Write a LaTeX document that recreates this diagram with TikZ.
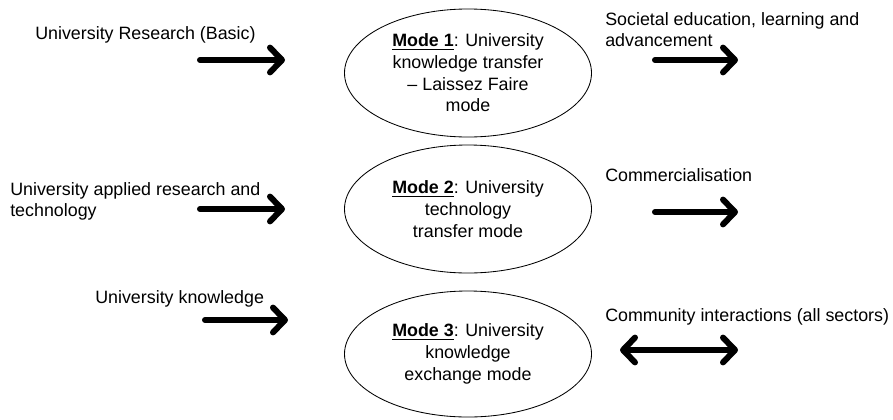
\documentclass[tikz,border=0pt]{standalone}
\usepackage{fontspec}
\setmainfont{Liberation Sans}
\usepackage{tikz}
\usetikzlibrary{arrows.meta}
\usetikzlibrary{shapes,backgrounds}
\usetikzlibrary{positioning}
\usetikzlibrary{calc}

\begin{document}
\begin{tikzpicture}[
	txt/.style={inner sep=0pt,align=left,font=\fontsize{12.7}{15}\selectfont},
	modebox/.style={draw,line width=0.6pt,ellipse,inner sep=0pt,minimum width=6.175cm,minimum height=3.2cm,align=center,font=\fontsize{12.7}{15.4}\selectfont},
	bigarrow/.style={line width=0.15cm,line cap=round,line join=round,-{Straight Barb[length=0.3cm,width=0.62cm,line cap=round,line join=round]}},
	bigboth/.style={bigarrow,{Straight Barb[length=0.3cm,width=0.62cm,line cap=round,line join=round]}-{Straight Barb[length=0.3cm,width=0.62cm,line cap=round,line join=round]}}]
	\useasboundingbox (0,0) rectangle (22.325,-10.475);

	\node[modebox](M1) at (11.7,-1.825){\underline{\textbf{Mode 1}}: University\\knowledge transfer\\-- Laissez Faire\\mode};
	\node[modebox](M2) at (11.7,-5.225){\underline{\textbf{Mode 2}}: University\\technology\\transfer mode};
	\node[modebox,minimum height=3.15cm](M3) at (11.7,-8.85){\underline{\textbf{Mode 3}}: University\\knowledge\\exchange mode};

	\node[txt,anchor=west](L1) at (0.875,-0.875){University Research (Basic)};
	\node[txt,anchor=west](L2) at (0.25,-5.04){University applied research and\\technology};
	\node[txt,anchor=west](L3) at (2.375,-7.475){University knowledge};

	\node[txt,anchor=west](R1) at (15.125,-0.75){Societal education, learning and\\advancement};
	\node[txt,anchor=west](R2) at (15.125,-4.375){Commercialisation};
	\node[txt,anchor=west](R3) at (15.125,-7.925){Community interactions (all sectors)};

	\coordinate (A1s) at (5,-1.5);      \coordinate (A1e) at (7.125,-1.5);
	\coordinate (A2s) at (5,-5.225);    \coordinate (A2e) at (7.125,-5.225);
	\coordinate (A3s) at (5.125,-8);    \coordinate (A3e) at (7.2,-8);
	\coordinate (B1s) at (16.375,-1.5); \coordinate (B1e) at (18.45,-1.5);
	\coordinate (B2s) at (16.375,-5.3); \coordinate (B2e) at (18.45,-5.3);
	\coordinate (B3s) at (15.5,-8.75);  \coordinate (B3e) at (18.45,-8.75);

	\draw[bigarrow] (A1s) -- (A1e);
	\draw[bigarrow] (A2s) -- (A2e);
	\draw[bigarrow] (A3s) -- (A3e);
	\draw[bigarrow] (B1s) -- (B1e);
	\draw[bigarrow] (B2s) -- (B2e);
	\draw[bigboth] (B3s) -- (B3e);
\end{tikzpicture}
\end{document}
